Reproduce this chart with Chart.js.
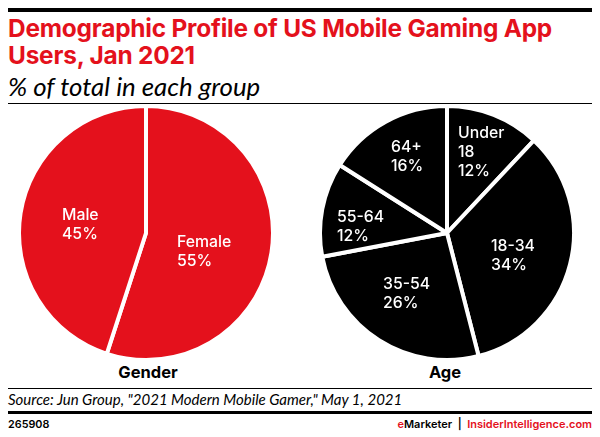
<!DOCTYPE html>
<html>
<head>
<meta charset="utf-8">
<title>Demographic Profile of US Mobile Gaming App Users, Jan 2021</title>
<script src="https://cdn.jsdelivr.net/npm/chart.js@4"></script>
<style>
  html, body { margin: 0; padding: 0; background: #fff; }
  #page { position: relative; width: 600px; height: 437px; overflow: hidden; font-family: Inter, sans-serif; color: #000; }
  #page > * { position: absolute; }
  .rule { left: 8px; width: 584px; background: #000; }
  h1 { left: 8px; top: 14.5px; margin: 0; font-size: 24.4px; line-height: 27.5px; font-weight: 700; color: #e4111c; letter-spacing: -0.2px; white-space: nowrap; }
  #subtitle { left: 8px; top: 71px; font-family: Lato, sans-serif; font-style: italic; font-size: 25.8px; line-height: 30px; white-space: nowrap; }
  .pieName { font-weight: 700; font-size: 16.5px; line-height: 20px; transform: translateX(-50%); }
  #source { left: 8px; top: 390px; font-family: Lato, sans-serif; font-style: italic; font-size: 15px; line-height: 18px; white-space: nowrap; }
  #chartId { left: 8px; top: 417px; font-weight: 600; font-size: 10.8px; line-height: 15px; }
  #credit { right: 8px; top: 417px; font-weight: 600; font-size: 11px; line-height: 15px; white-space: pre; }
  #credit span { color: #e4111c; }
  canvas { position: absolute; }
</style>
</head>
<body>
<div id="page">
  <div class="rule" style="top:8px;height:4px"></div>
  <h1>Demographic Profile of US Mobile Gaming App<br>Users, Jan 2021</h1>
  <div id="subtitle">% of total in each group</div>
  <div class="rule" style="top:103px;height:1px"></div>
  <canvas id="genderChart" width="258" height="258" style="left:17px;top:104px"></canvas>
  <canvas id="ageChart" width="258" height="258" style="left:318px;top:104px"></canvas>
  <div class="pieName" style="left:148px;top:362px">Gender</div>
  <div class="pieName" style="left:445px;top:362px">Age</div>
  <div class="rule" style="top:388px;height:1px"></div>
  <div id="source">Source: Jun Group, "2021 Modern Mobile Gamer," May 1, 2021</div>
  <div class="rule" style="top:411px;height:3px"></div>
  <div id="chartId">265908</div>
  <div id="credit"><span>e</span>Marketer  |  <span>InsiderIntelligence.com</span></div>
</div>
<script>
const genderLabels = ['Female', 'Male'];
const genderValues = [55, 45];
const ageLabels = ['Under\n18', '18-34', '35-54', '55-64', '64+'];
const ageValues = [12, 34, 26, 12, 16];

// where each slice's text starts, in canvas px (left edge, first line centre)
const genderTextPos = [[160, 138], [45, 111]];
const ageTextPos = [[140, 29], [173, 142], [65, 180], [19, 113], [73, 43]];

// writes "name / value%" inside every slice
const sliceText = {
  id: 'sliceText',
  afterDatasetsDraw(chart, args, opts) {
    const ctx = chart.ctx;
    const values = chart.data.datasets[0].data;
    ctx.save();
    ctx.fillStyle = '#fff';
    ctx.font = '500 15.8px Inter, sans-serif';
    ctx.textAlign = 'left';
    ctx.textBaseline = 'middle';
    chart.data.labels.forEach((label, i) => {
      const lines = label.split('\n').concat(values[i] + '%');
      lines.forEach((line, n) => {
        ctx.fillText(line, opts.pos[i][0], opts.pos[i][1] + n * 19);
      });
    });
    ctx.restore();
  }
};

function makePie(id, labels, values, color, pos) {
  return new Chart(document.getElementById(id), {
    type: 'pie',
    data: {
      labels,
      datasets: [{
        data: values,
        backgroundColor: color,
        borderColor: '#fff',
        borderWidth: 4
      }]
    },
    options: {
      responsive: false,
      animation: false,
      plugins: {
        legend: { display: false },
        tooltip: { enabled: false },
        sliceText: { pos }
      }
    },
    plugins: [sliceText]
  });
}

makePie('genderChart', genderLabels, genderValues, '#e4111c', genderTextPos);
makePie('ageChart', ageLabels, ageValues, '#000', ageTextPos);
</script>
</body>
</html>
